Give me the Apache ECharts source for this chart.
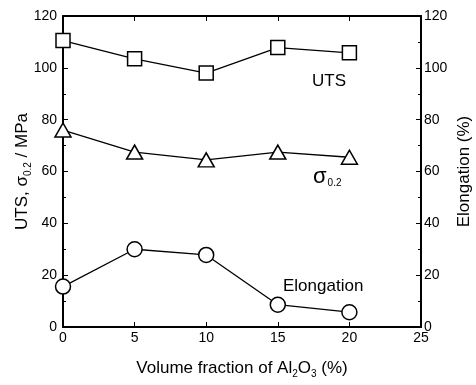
<!DOCTYPE html>
<html>
<head>
<meta charset="utf-8">
<script src="https://cdn.jsdelivr.net/npm/echarts@6/dist/echarts.min.js"></script>
<style>
  html, body { margin: 0; padding: 0; background: #fff; }
  #chart { width: 476px; height: 385px; }
</style>
</head>
<body>
<div id="chart"></div>
<script>
var volFraction = [0, 5, 10, 15, 20];
var uts = [110.5, 103.5, 98, 107.8, 105.8];
var sigma02 = [76, 67.5, 64.5, 67.5, 65.5];
var elongation = [15.6, 30, 27.8, 8.6, 5.7];

var font = 'Liberation Sans, Arial, sans-serif';

function pairs(xs, ys) {
    return xs.map(function (x, i) { return [x, ys[i]]; });
}

var chart = echarts.init(document.getElementById('chart'));

var subRich = {
    sub: { fontSize: 10, fontFamily: font, color: '#000', verticalAlign: 'bottom', lineHeight: 22 }
};

var line = { show: true, onZero: false, lineStyle: { color: '#000', width: 2 } };
var tick = { show: true, inside: true, length: 5, lineStyle: { color: '#000', width: 1 } };
var minor = { show: true, splitNumber: 2, length: 3, lineStyle: { color: '#000', width: 1 } };
var label = { fontSize: 14, fontFamily: font, color: '#000' };

var option = {
    backgroundColor: '#fff',
    animation: false,
    grid: { left: 63, right: 55, top: 16, bottom: 58, outerBoundsMode: 'none', containLabel: false },
    xAxis: [
        {
            type: 'value',
            min: 0,
            max: 25,
            interval: 5,
            name: 'Volume fraction of Al{sub|2}O{sub|3} (%)',
            nameLocation: 'middle',
            nameGap: 30,
            nameMoveOverlap: false,
            nameTextStyle: { fontSize: 17, fontFamily: font, color: '#000', lineHeight: 22, rich: subRich },
            axisLine: line,
            axisTick: tick,
            axisLabel: Object.assign({ margin: 4 }, label),
            splitLine: { show: false }
        },
        {
            type: 'value',
            position: 'top',
            min: 0,
            max: 25,
            interval: 5,
            axisLine: line,
            axisTick: tick,
            axisLabel: { show: false },
            splitLine: { show: false }
        }
    ],
    yAxis: [
        {
            type: 'value',
            min: 0,
            max: 120,
            interval: 20,
            name: 'UTS, σ{sub|0.2} / MPa',
            nameLocation: 'middle',
            nameRotate: 90,
            nameGap: 30,
            nameMoveOverlap: false,
            nameTextStyle: { fontSize: 17, fontFamily: font, color: '#000', lineHeight: 22, rich: subRich },
            axisLine: line,
            axisTick: tick,
            minorTick: minor,
            axisLabel: Object.assign({ margin: 6 }, label),
            splitLine: { show: false }
        },
        {
            type: 'value',
            position: 'right',
            min: 0,
            max: 120,
            interval: 20,
            name: 'Elongation (%)',
            nameLocation: 'middle',
            nameRotate: 90,
            nameGap: 35,
            nameMoveOverlap: false,
            nameTextStyle: { fontSize: 17, fontFamily: font, color: '#000' },
            axisLine: line,
            axisTick: tick,
            minorTick: minor,
            axisLabel: Object.assign({ margin: 3 }, label),
            splitLine: { show: false }
        }
    ],
    series: [
        {
            name: 'UTS',
            type: 'line',
            data: pairs(volFraction, uts),
            symbol: 'rect',
            symbolSize: 14,
            lineStyle: { color: '#000', width: 1.3 },
            itemStyle: { color: '#fff', borderColor: '#000', borderWidth: 1.5 },
            z: 3
        },
        {
            name: 'σ0.2',
            type: 'line',
            data: pairs(volFraction, sigma02),
            symbol: 'triangle',
            symbolSize: [16, 14],
            lineStyle: { color: '#000', width: 1.3 },
            itemStyle: { color: '#fff', borderColor: '#000', borderWidth: 1.5 },
            z: 3
        },
        {
            name: 'Elongation',
            type: 'line',
            yAxisIndex: 1,
            data: pairs(volFraction, elongation),
            symbol: 'circle',
            symbolSize: 15,
            lineStyle: { color: '#000', width: 1.3 },
            itemStyle: { color: '#fff', borderColor: '#000', borderWidth: 1.5 },
            z: 3
        }
    ],
    graphic: [
        {
            type: 'text', left: 312, top: 73,
            style: { text: 'UTS', font: '17px ' + font, fill: '#000' }
        },
        {
            type: 'text', left: 313, top: 166,
            style: {
                text: 'σ{sub|0.2}',
                font: '22px ' + font,
                fill: '#000',
                rich: { sub: { fontSize: 10, fontFamily: font, fill: '#000', verticalAlign: 'bottom', lineHeight: 17, padding: [0, 0, 0, 1] } }
            }
        },
        {
            type: 'text', left: 283, top: 278,
            style: { text: 'Elongation', font: '17px ' + font, fill: '#000' }
        }
    ]
};

chart.setOption(option);
</script>
</body>
</html>
